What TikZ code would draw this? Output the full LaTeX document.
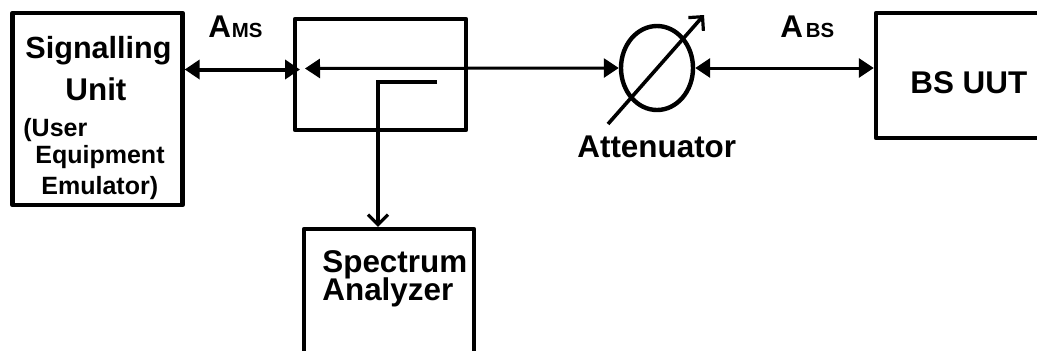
\documentclass[tikz,border=0pt]{standalone}
\usepackage{fontspec}
\setmainfont{Liberation Sans}
\usetikzlibrary{shapes.geometric, arrows.meta}
\tikzset{
  unitbox/.style={draw, line width=2.2pt, line join=round, rectangle},
  lbl/.style={anchor=base west, inner sep=0pt, font=\fontsize{15.7}{15.7}\selectfont\bfseries},
  smalllbl/.style={anchor=base west, inner sep=0pt, font=\fontsize{12.5}{12.5}\selectfont\bfseries},
  sublbl/.style={anchor=base west, inner sep=0pt, font=\fontsize{10.2}{10.2}\selectfont\bfseries},
  solidtip/.tip={Stealth[length=7.5pt, width=9.5pt, inset=0pt]},
  opentip/.tip={Straight Barb[length=5pt, width=10pt, line width=1.6pt]},
  link/.style={line width=1.5pt}
}

\begin{document}
\begin{tikzpicture}[x=0.5pt, y=-0.5pt]
  \useasboundingbox (0, 0) rectangle (1037, 350);
  \clip (0, 0) rectangle (1037, 350);

  % boxes, the last two run off the page
  \node[unitbox, minimum width=85pt, minimum height=96pt] (sigunit) at (97.5, 109) {};
  \node[unitbox, minimum width=85.5pt, minimum height=55.5pt] (coupler) at (380.5, 74.5) {};
  \node[unitbox, minimum width=85pt, minimum height=100pt] (spectrum) at (389, 329) {};
  \node[unitbox, minimum width=120pt, minimum height=62.5pt] (uut) at (996, 75.5) {};
  \node[ellipse, draw, line width=2.2pt, inner sep=0pt, minimum width=36pt, minimum height=42pt] (att) at (657, 68) {};

  % texts
  \node[lbl, font=\fontsize{15.3}{15.3}\selectfont\bfseries] (sigtext) at (25, 58) {Signalling};
  \node[lbl] (unittext) at (65, 100) {Unit};
  \node[smalllbl] (usertext) at (23, 136) {(User};
  \node[smalllbl] (equiptext) at (35, 163) {Equipment};
  \node[smalllbl] (emutext) at (41, 194) {Emulator)};
  \node[lbl] (spectext) at (322, 272) {Spectrum};
  \node[lbl] (anatext) at (322, 300) {Analyzer};
  \node[lbl] (uuttext) at (910, 93) {BS UUT};
  \node[lbl] (atttext) at (577, 157) {Attenuator};
  \node[lbl] (amsa) at (208, 37) {A};
  \node[sublbl] (amss) at (amsa.base east) {MS};
  \node[lbl] (absa) at (780, 37) {A};
  \node[sublbl, xshift=1pt] (abss) at (absa.base east) {BS};

  % free ends
  \coordinate (msport) at (300, 69.5);
  \coordinate (inport) at (305, 68.5);
  \coordinate (tapend) at (437, 82);
  \coordinate (tapcorner) at (378, 82);
  \coordinate (dialfrom) at (608, 124);
  \coordinate (dialto) at (704, 15);

  % links
  \draw[link, line width=2pt, {solidtip}-{solidtip}] (sigunit.east |- msport) -- (msport);
  \draw[link, {solidtip}-{solidtip}] (inport) -- (att.west);
  \draw[link, {solidtip}-{solidtip}] (att.east) -- (uut.west |- att.east);
  \draw[link, line width=1.8pt, -{opentip}] (tapend) -- (tapcorner) -- (spectrum.north -| tapcorner);
  \draw[link, line width=1.8pt, -{opentip}] (dialfrom) -- (dialto);
\end{tikzpicture}
\end{document}
